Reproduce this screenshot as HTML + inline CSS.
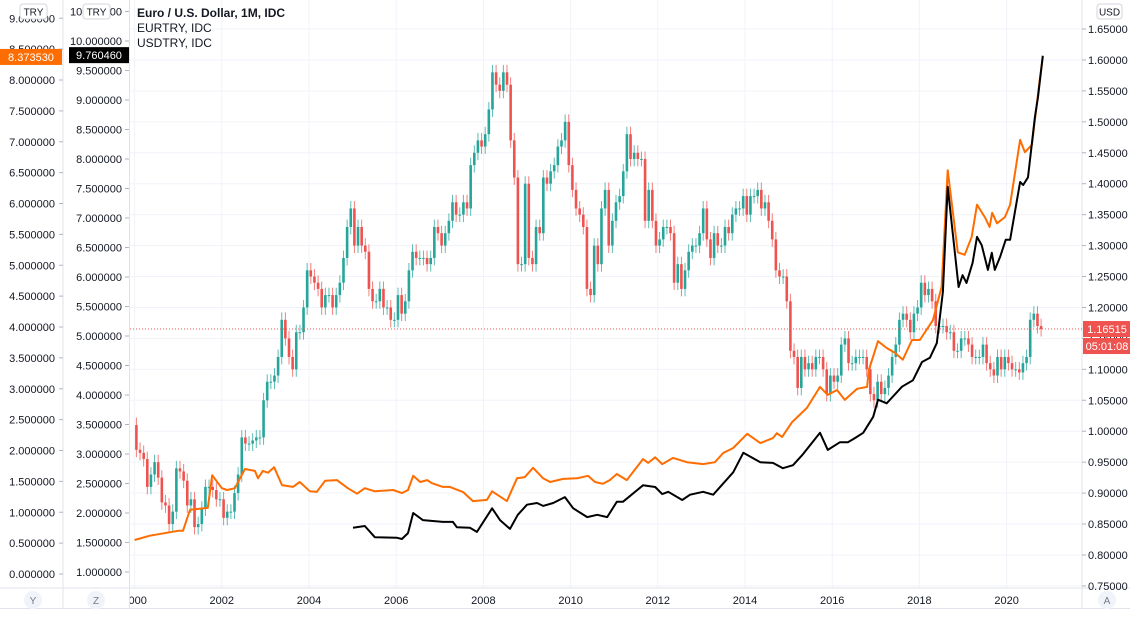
<!DOCTYPE html>
<html><head><meta charset="utf-8"><style>
html,body{margin:0;padding:0;background:#fff;}
body{width:1130px;height:623px;overflow:hidden;font-family:"Liberation Sans",sans-serif;}
svg text{font-family:"Liberation Sans",sans-serif;}
</style></head><body>
<svg id="chart" width="1130" height="623" xmlns="http://www.w3.org/2000/svg">
<g id="grid"></g>
<g id="axes"></g>
<g id="plot"></g>
<g id="ui"></g>
</svg>
<script>
// ---- EURUSD monthly closes, Jan 2000 .. Oct 2020 ----
const eurusdStartYear = 2000;
const eurusdFirstOpen = 1.01;
const eurusdCloses = [
0.97,0.965,0.955,0.91,0.93,0.95,0.925,0.885,0.88,0.85,0.87,0.94,
0.935,0.92,0.88,0.89,0.845,0.85,0.875,0.91,0.91,0.905,0.89,0.89,
0.86,0.87,0.87,0.90,0.93,0.99,0.98,0.98,0.985,0.99,0.99,1.05,
1.08,1.08,1.09,1.12,1.18,1.15,1.12,1.10,1.16,1.16,1.20,1.26,
1.25,1.24,1.23,1.20,1.22,1.22,1.20,1.22,1.24,1.28,1.33,1.36,
1.30,1.33,1.30,1.29,1.23,1.21,1.21,1.23,1.20,1.20,1.18,1.18,
1.22,1.19,1.21,1.26,1.29,1.28,1.28,1.28,1.27,1.28,1.33,1.32,
1.30,1.32,1.34,1.37,1.35,1.35,1.37,1.36,1.43,1.45,1.47,1.46,
1.48,1.52,1.58,1.56,1.55,1.58,1.56,1.47,1.41,1.27,1.27,1.40,
1.28,1.27,1.33,1.32,1.41,1.40,1.42,1.43,1.46,1.47,1.50,1.43,
1.39,1.36,1.35,1.33,1.23,1.22,1.30,1.27,1.36,1.39,1.30,1.34,
1.37,1.38,1.42,1.48,1.44,1.45,1.44,1.44,1.34,1.39,1.34,1.30,
1.31,1.33,1.33,1.32,1.24,1.27,1.23,1.26,1.29,1.30,1.30,1.32,
1.36,1.31,1.28,1.32,1.30,1.30,1.33,1.32,1.35,1.36,1.36,1.38,
1.35,1.38,1.38,1.39,1.36,1.37,1.34,1.31,1.26,1.25,1.25,1.21,
1.13,1.12,1.07,1.12,1.10,1.11,1.10,1.12,1.12,1.10,1.06,1.09,
1.08,1.09,1.14,1.15,1.11,1.11,1.12,1.12,1.12,1.10,1.06,1.05,
1.08,1.06,1.07,1.09,1.12,1.14,1.18,1.19,1.18,1.16,1.19,1.20,
1.24,1.22,1.23,1.21,1.17,1.17,1.17,1.16,1.16,1.13,1.13,1.15,
1.15,1.14,1.12,1.12,1.12,1.14,1.11,1.10,1.09,1.12,1.10,1.12,
1.11,1.10,1.10,1.095,1.11,1.12,1.18,1.19,1.17,1.165
];
// ---- EURTRY line (date in years, value) ----
const eurtryDates = [2000.0,2000.35,2001.0,2001.11,2001.27,2001.68,2001.78,2002.0,2002.12,2002.3,2002.53,2002.76,2002.83,2002.94,2003.06,2003.2,2003.38,2003.63,2003.79,2004.02,2004.18,2004.37,2004.64,2004.89,2005.1,2005.28,2005.51,2005.93,2006.13,2006.27,2006.39,2006.55,2006.71,2006.82,2007.07,2007.23,2007.53,2007.76,2008.08,2008.2,2008.54,2008.77,2008.95,2009.14,2009.37,2009.53,2009.83,2010.15,2010.4,2010.56,2010.74,2010.9,2011.06,2011.29,2011.66,2011.78,2011.94,2012.1,2012.35,2012.67,2013.04,2013.31,2013.5,2013.73,2014.05,2014.35,2014.64,2014.73,2014.85,2015.08,2015.42,2015.72,2015.9,2016.11,2016.29,2016.57,2016.8,2016.84,2017.05,2017.25,2017.44,2017.62,2017.83,2018.01,2018.31,2018.51,2018.65,2018.88,2019.04,2019.2,2019.32,2019.5,2019.61,2019.67,2019.78,2019.96,2020.08,2020.31,2020.42,2020.58,2020.76,2020.83];
const eurtryValues = [0.55,0.62,0.70,0.70,1.04,1.07,1.60,1.39,1.36,1.39,1.70,1.67,1.55,1.67,1.64,1.73,1.44,1.41,1.49,1.34,1.33,1.51,1.52,1.39,1.30,1.39,1.34,1.36,1.31,1.36,1.59,1.49,1.52,1.47,1.41,1.41,1.33,1.18,1.20,1.34,1.18,1.55,1.57,1.72,1.55,1.49,1.54,1.55,1.59,1.49,1.46,1.52,1.62,1.52,1.86,1.80,1.89,1.78,1.88,1.81,1.78,1.81,1.96,2.04,2.27,2.12,2.20,2.28,2.22,2.46,2.69,3.03,2.90,2.98,2.82,3.00,3.03,3.30,3.77,3.66,3.58,3.47,3.79,3.79,4.11,4.65,6.54,5.21,5.17,5.46,5.98,5.78,5.62,5.85,5.68,5.78,5.98,7.03,6.83,6.95,8.00,8.37];
// ---- USDTRY line ----
const usdtryDates = [2005.01,2005.28,2005.51,2006.02,2006.13,2006.27,2006.39,2006.61,2007.07,2007.3,2007.39,2007.69,2007.85,2008.2,2008.38,2008.61,2008.79,2009.0,2009.23,2009.37,2009.6,2009.87,2010.06,2010.38,2010.61,2010.84,2011.06,2011.2,2011.66,2011.94,2012.1,2012.24,2012.56,2012.74,2013.04,2013.27,2013.73,2013.96,2014.35,2014.64,2014.87,2015.1,2015.31,2015.72,2015.9,2016.18,2016.36,2016.52,2016.71,2016.94,2017.05,2017.25,2017.6,2017.85,2018.06,2018.24,2018.4,2018.54,2018.65,2018.9,2018.99,2019.08,2019.22,2019.32,2019.43,2019.57,2019.66,2019.73,2019.85,2019.98,2020.08,2020.31,2020.38,2020.49,2020.65,2020.72,2020.83];
const usdtryValues = [1.75,1.78,1.59,1.58,1.56,1.66,2.00,1.88,1.85,1.85,1.76,1.75,1.68,2.08,1.88,1.73,1.97,2.14,2.17,2.12,2.17,2.27,2.08,1.93,1.97,1.93,2.19,2.19,2.47,2.44,2.32,2.36,2.22,2.31,2.36,2.31,2.69,3.02,2.86,2.85,2.76,2.81,2.98,3.36,3.07,3.20,3.20,3.27,3.36,3.63,3.92,3.86,4.14,4.25,4.56,4.63,4.88,5.75,7.53,5.83,6.03,5.90,6.24,6.68,6.54,6.12,6.41,6.12,6.34,6.63,6.63,7.61,7.56,7.69,8.71,9.05,9.75];
// ---- tick labels ----
const yearTicks = [2000,2002,2004,2006,2008,2010,2012,2014,2016,2018,2020];
const usdTicks = [0.75,0.80,0.85,0.90,0.95,1.00,1.05,1.10,1.15,1.20,1.25,1.30,1.35,1.40,1.45,1.50,1.55,1.60,1.65];
const eurtryTicks = [0,0.5,1,1.5,2,2.5,3,3.5,4,4.5,5,5.5,6,6.5,7,7.5,8,8.5,9];
const usdtryTicks = [1,1.5,2,2.5,3,3.5,4,4.5,5,5.5,6,6.5,7,7.5,8,8.5,9,9.5,10,10.5];
const lastEurusd = 1.16515, lastEurtry = 8.37353, lastUsdtry = 9.76046;

const NS='http://www.w3.org/2000/svg';
const PL=130, PR=1082, PT=0, PB=588;
const xT = t => 134.6 + (t-2000)*43.6;
const yUSD = v => 29 + (1.65-v)/0.05*30.94;
const yEUR = v => 574 - v*61.75;
const yTRY = v => 572 - (v-1)*59;
function mk(tag, attrs, parent){const e=document.createElementNS(NS,tag);for(const k in attrs)e.setAttribute(k,attrs[k]);parent.appendChild(e);return e;}
const grid=document.getElementById('grid'), axes=document.getElementById('axes'), plot=document.getElementById('plot'), ui=document.getElementById('ui');

// clip
const defs=mk('defs',{},document.getElementById('chart'));
const cp=mk('clipPath',{id:'pc'},defs); mk('rect',{x:PL,y:PT,width:PR-PL,height:PB-PT},cp);
plot.setAttribute('clip-path','url(#pc)');

// grid
usdTicks.forEach(v=>{const l=mk('line',{x1:PL,x2:PR,y1:yUSD(v),y2:yUSD(v),stroke:'#f0f3fa','stroke-width':1},grid);

});
yearTicks.forEach(y=>{const l=mk('line',{x1:xT(y),x2:xT(y),y1:PT,y2:PB,stroke:'#f0f3fa','stroke-width':1},grid);

});

// axis borders
[[63,0,63,608],[129.5,0,129.5,608],[PR,0,PR,608],[0,PB,1130,PB],[0,608.5,1130,608.5]].forEach(a=>{
const l=mk('line',{x1:a[0],y1:a[1],x2:a[2],y2:a[3],stroke:'#e0e3eb','stroke-width':1},axes);

});

// right axis labels
usdTicks.forEach(v=>{const t=mk('text',{x:1088,y:yUSD(v)+4,'font-size':11,fill:'#131722'},axes);t.textContent=v.toFixed(5);


mk('line',{x1:PR,x2:PR+4,y1:yUSD(v),y2:yUSD(v),stroke:'#b2b5be'},axes);});
// left axis 1 (EURTRY)
eurtryTicks.forEach(v=>{const t=mk('text',{x:55,y:yEUR(v)+4,'font-size':11,fill:'#131722','text-anchor':'end'},axes);t.textContent=v.toFixed(6);


mk('line',{x1:59,x2:63,y1:yEUR(v),y2:yEUR(v),stroke:'#b2b5be'},axes);});
// left axis 2 (USDTRY)
usdtryTicks.forEach(v=>{const t=mk('text',{x:122,y:yTRY(v)+4,'font-size':11,fill:'#131722','text-anchor':'end'},axes);t.textContent=v.toFixed(6);


mk('line',{x1:125,x2:129,y1:yTRY(v),y2:yTRY(v),stroke:'#b2b5be'},axes);});
// time axis labels
const tclip=mk('clipPath',{id:'tc'},defs); mk('rect',{x:PL,y:PB,width:PR-PL,height:20},tclip);
yearTicks.forEach(y=>{const t=mk('text',{x:xT(y),y:604,'font-size':11,fill:'#131722','text-anchor':'middle','clip-path':'url(#tc)'},axes);t.textContent=y;

});

// candles
let prev=eurusdFirstOpen;
eurusdCloses.forEach((c,i)=>{
 const o=prev; prev=c;
 const up=c>=o, col=up?'#26a69a':'#ef5350';
 const x=xT(eurusdStartYear+i/12)+1.8;
 const hi=Math.max(o,c)+0.012, lo=Math.min(o,c)-0.012;
 const g=mk('g',{},plot);
 
 
 mk('line',{x1:x,x2:x,y1:yUSD(hi),y2:yUSD(lo),stroke:col,'stroke-width':1,opacity:0.75},g);
 const yt=yUSD(Math.max(o,c)), yb=yUSD(Math.min(o,c));
 mk('rect',{x:x-1.3,y:yt,width:2.6,height:Math.max(1,yb-yt),fill:col},g);
});

// lines
function line(d,v,ys,col,name){const p=d.map((t,i)=>(i?'L':'M')+xT(t).toFixed(1)+','+ys(v[i]).toFixed(1)).join('');
const e=mk('path',{d:p,fill:'none',stroke:col,'stroke-width':2,'stroke-linejoin':'round'},plot);

}
line(eurtryDates,eurtryValues,yEUR,'#ff6d00','eurtry-line');
line(usdtryDates,usdtryValues,yTRY,'#000000','usdtry-line');

// last price line
const lp=mk('line',{x1:PL,x2:PR,y1:yUSD(lastEurusd),y2:yUSD(lastEurusd),stroke:'#ef5350','stroke-width':1,'stroke-dasharray':'1,2'},plot);



// badges
function badge(x,y,w,h,bg,txt,name,fs){const g=mk('g',{},ui);


mk('rect',{x:x,y:y,width:w,height:h,fill:bg},g);
const t=mk('text',{x:x+w/2,y:y+h/2+4,'font-size':fs||11,fill:'#fff','text-anchor':'middle'},g);t.textContent=txt;}
const yl=yUSD(lastEurusd);
badge(PR+1,yl-8,48,16,'#ef5350',lastEurusd.toFixed(5),'eurusd-price-badge',11);
badge(PR+1,yl+9,48,16,'#ef5350','05:01:08','countdown-badge',11);
badge(0,yEUR(lastEurtry)-8,62,16,'#ff6d00',lastEurtry.toFixed(6),'eurtry-price-badge',11);
badge(69,yTRY(lastUsdtry)-8,60,16,'#000000',lastUsdtry.toFixed(6),'usdtry-price-badge',11);

// currency buttons
function btn(x,y,w,txt,name){const g=mk('g',{},ui);


mk('rect',{x:x,y:y,width:w,height:15,rx:3,fill:'#fff',stroke:'#d1d4dc'},g);
const t=mk('text',{x:x+w/2,y:y+11.5,'font-size':10,fill:'#131722','text-anchor':'middle'},g);t.textContent=txt;}
btn(20,4,27,'TRY','eurtry-currency-button');
btn(83,4,27,'TRY','usdtry-currency-button');
btn(1097,4,25,'USD','usd-currency-button');
function circ(x,txt,name){const g=mk('g',{},ui);


mk('circle',{cx:x,cy:600,r:9,fill:'#f0f3fa'},g);
const t=mk('text',{x:x,y:604,'font-size':10,fill:'#787b86','text-anchor':'middle'},g);t.textContent=txt;}
circ(33,'Y','scale-y-button');circ(96,'Z','scale-z-button');circ(1107,'A','auto-scale-button');

// legend
[['Euro / U.S. Dollar, 1M, IDC',17,'bold','legend-eurusd'],['EURTRY, IDC',32,'normal','legend-eurtry'],['USDTRY, IDC',47,'normal','legend-usdtry']].forEach(r=>{
const t=mk('text',{x:137,y:r[1],'font-size':12,fill:'#131722','font-weight':r[2]},ui);t.textContent=r[0];

});
</script>
</body></html>
